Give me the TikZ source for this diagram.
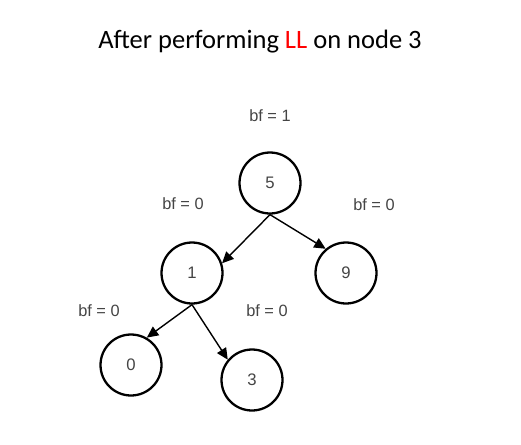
\documentclass[tikz,border=0pt]{standalone}
\usepackage{fontspec}
\setmainfont{Carlito}
\newfontfamily\labelfont{Liberation Sans}
\usetikzlibrary{arrows.meta}
\definecolor{txtgray}{RGB}{68,68,68}
\definecolor{llred}{RGB}{255,0,0}

\begin{document}
\begin{tikzpicture}[x=0.02cm, y=-0.02cm,
    treenode/.style={draw, circle, line width=1.3pt, minimum size=1.22cm, inner sep=0pt,
        font=\labelfont\fontsize{9.5}{10}\selectfont, text=txtgray},
    bflabel/.style={font=\labelfont\fontsize{9.3}{10}\selectfont, text=txtgray},
    edge/.style={line width=0.8pt, -{Triangle[length=6.5pt, width=6pt]}}]
        \useasboundingbox (0, 0) rectangle (521, 444);
        \coordinate (origin) at (0, 0);

        \node (title) at (260, 42) {\fontsize{15.1}{18}\selectfont After performing \textcolor{llred}{LL} on node 3};

        \node (n5) [treenode] at (270, 183) {5};
        \node (n1) [treenode] at (192, 273) {1};
        \node (n9) [treenode] at (346, 273) {9};
        \node (n0) [treenode] at (131, 365) {0};
        \node (n3) [treenode] at (252, 380) {3};

        \node (bf5) [bflabel] at (270, 116) {bf = 1};
        \node (bf1) [bflabel] at (183, 204) {bf = 0};
        \node (bf9) [bflabel] at (374, 205) {bf = 0};
        \node (bf0) [bflabel] at (99, 311) {bf = 0};
        \node (bf3) [bflabel] at (267, 311) {bf = 0};

        \draw [edge] (n5.south) -- (n1.18);
        \draw [edge] (n5.south) -- (n9.130);
        \draw [edge] (n1.south) -- (n0.60);
        \draw [edge] (n1.south) -- (n3.140);
      \end{tikzpicture}
\end{document}
